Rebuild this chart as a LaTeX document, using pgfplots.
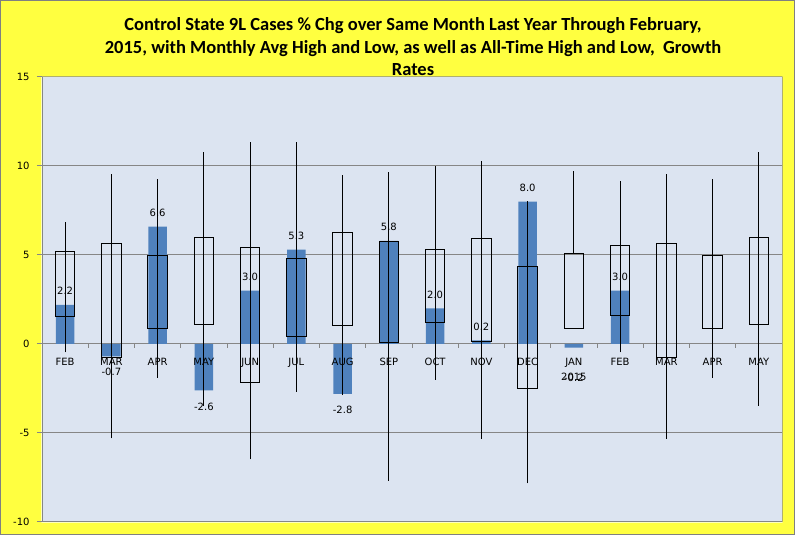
\documentclass[border=0pt]{standalone}
\usepackage{fontspec}
\setmainfont{DejaVu Sans}
\newfontfamily\titlefont{Carlito}
\usepackage{pgfplots}
\usepackage{pgfplotstable}
\pgfplotsset{compat=1.18}
\usepgfplotslibrary{statistics}
\definecolor{chartyellow}{RGB}{255,255,64}
\definecolor{plotbg}{RGB}{220,228,241}
\definecolor{gridgray}{RGB}{134,134,134}
\definecolor{barblue}{RGB}{79,129,189}
\definecolor{framegray}{RGB}{128,128,128}

% current growth rate (bars) and label offset
\pgfplotstableread{
x v off
0 2.2 6.5
1 -0.7 -8.5
2 6.6 6.5
3 -2.6 -9
4 3.0 6.5
5 5.3 6.5
6 -2.8 -8.5
7 5.8 6.5
8 2.0 6.5
9 0.2 6
10 8.0 6.5
11 -0.2 -22.5
12 3.0 6.5
}\bars

\begin{document}
\begin{tikzpicture}
\fill[chartyellow, even odd rule] (0,0) rectangle (795bp,535bp) (41.4bp,12.4bp) rectangle (782.6bp,458.6bp);
\draw[framegray, line width=1.2bp] (0.6bp,0.6bp) rectangle (794.4bp,534.4bp);
\node[align=center, font=\titlefont\bfseries\fontsize{18.5bp}{22.5bp}\selectfont] at (413bp,488bp)
 {Control State 9L Cases \% Chg over Same Month Last Year Through February,\\2015, with Monthly Avg High and Low, as well as All-Time High and Low,\ \ Growth\\Rates};
\begin{axis}[at={(42bp,13bp)}, anchor=south west, scale only axis, width=740bp, height=445bp,
 set layers,
 xmin=-0.5, xmax=15.5, ymin=-10, ymax=15,
 axis x line=middle, axis y line=left, axis line style={/pgfplots/on layer=axis foreground, gridgray, line width=1bp, -},
 axis background/.style={fill=plotbg, draw=gridgray, line width=1bp},
 hide obscured x ticks=false, hide obscured y ticks=false,
 ytick={-10,-5,...,15}, ymajorgrids, grid style={gridgray, line width=1bp},
 xtick={0,...,15},
 xticklabels={FEB,MAR,APR,MAY,JUN,JUL,AUG,SEP,OCT,NOV,DEC,{JAN\\2015},FEB,MAR,APR,MAY},
 minor x tick num=1, major x tick style={draw=none}, minor x tick style={gridgray, line width=1bp},
 minor tick length=4bp, major tick length=5bp, tick align=outside,
 ytick style={/pgfplots/on layer=axis foreground, gridgray, line width=1bp},
 xticklabel style={/pgfplots/on layer=axis foreground, align=center, yshift=-6bp, font=\fontsize{10bp}{15bp}\selectfont},
 yticklabel style={/pgfplots/on layer=axis foreground, xshift=-4bp, font=\fontsize{10bp}{12bp}\selectfont},
 /pgf/number format/assume math mode=true,
 boxplot/draw direction=y,
]
\addplot[ybar, bar width=0.4, bar shift=0pt, fill=barblue, draw=none,
 nodes near coords={\pgfmathprintnumber[fixed,fixed zerofill,precision=1,assume math mode=true]{\pgfplotspointmeta}},
 visualization depends on={\thisrow{off}\as\laboff},
 every node near coord/.append style={yshift=\laboff bp, font=\fontsize{10bp}{12bp}\selectfont, black}]
 table[x=x,y=v]{\bars};
% monthly average high/low boxes
\pgfplotsset{mybox/.style={black, line width=1.1bp, boxplot/draw direction=y, boxplot prepared={draw position=#1, box extend=0.42, whisker extend=0}}}
\addplot[mybox=0, boxplot prepared={lower whisker=1.53, lower quartile=1.53, median=1.53, upper quartile=5.2, upper whisker=5.2}] coordinates {};
\addplot[mybox=1, boxplot prepared={lower whisker=-0.75, lower quartile=-0.75, median=-0.75, upper quartile=5.65, upper whisker=5.65}] coordinates {};
\addplot[mybox=2, boxplot prepared={lower whisker=0.88, lower quartile=0.88, median=0.88, upper quartile=4.98, upper whisker=4.98}] coordinates {};
\addplot[mybox=3, boxplot prepared={lower whisker=1.1, lower quartile=1.1, median=1.1, upper quartile=5.99, upper whisker=5.99}] coordinates {};
\addplot[mybox=4, boxplot prepared={lower whisker=-2.15, lower quartile=-2.15, median=-2.15, upper quartile=5.43, upper whisker=5.43}] coordinates {};
\addplot[mybox=5, boxplot prepared={lower whisker=0.41, lower quartile=0.41, median=0.41, upper quartile=4.81, upper whisker=4.81}] coordinates {};
\addplot[mybox=6, boxplot prepared={lower whisker=1.05, lower quartile=1.05, median=1.05, upper quartile=6.27, upper whisker=6.27}] coordinates {};
\addplot[mybox=7, boxplot prepared={lower whisker=0.09, lower quartile=0.09, median=0.09, upper quartile=5.77, upper whisker=5.77}] coordinates {};
\addplot[mybox=8, boxplot prepared={lower whisker=1.22, lower quartile=1.22, median=1.22, upper quartile=5.32, upper whisker=5.32}] coordinates {};
\addplot[mybox=9, boxplot prepared={lower whisker=0.13, lower quartile=0.13, median=0.13, upper quartile=5.94, upper whisker=5.94}] coordinates {};
\addplot[mybox=10, boxplot prepared={lower whisker=-2.49, lower quartile=-2.49, median=-2.49, upper quartile=4.36, upper whisker=4.36}] coordinates {};
\addplot[mybox=11, boxplot prepared={lower whisker=0.88, lower quartile=0.88, median=0.88, upper quartile=5.09, upper whisker=5.09}] coordinates {};
\addplot[mybox=12, boxplot prepared={lower whisker=1.61, lower quartile=1.61, median=1.61, upper quartile=5.54, upper whisker=5.54}] coordinates {};
\addplot[mybox=13, boxplot prepared={lower whisker=-0.75, lower quartile=-0.75, median=-0.75, upper quartile=5.65, upper whisker=5.65}] coordinates {};
\addplot[mybox=14, boxplot prepared={lower whisker=0.88, lower quartile=0.88, median=0.88, upper quartile=4.98, upper whisker=4.98}] coordinates {};
\addplot[mybox=15, boxplot prepared={lower whisker=1.1, lower quartile=1.1, median=1.1, upper quartile=5.99, upper whisker=5.99}] coordinates {};
% all-time high/low lines
\addplot[black, line width=1.1bp, mark=none, unbounded coords=jump] coordinates {
 (0,-0.47) (0,6.84) (0,nan)
 (1,-5.3) (1,9.55) (1,nan)
 (2,-1.89) (2,9.25) (2,nan)
 (3,-3.46) (3,10.77) (3,nan)
 (4,-6.48) (4,11.33) (4,nan)
 (5,-2.68) (5,11.33) (5,nan)
 (6,-2.87) (6,9.49) (6,nan)
 (7,-7.68) (7,9.64) (7,nan)
 (8,-2.02) (8,10.0) (8,nan)
 (9,-5.32) (9,10.28) (9,nan)
 (10,-7.83) (10,8.03) (10,nan)
 (11,5.09) (11,9.72) (11,nan)
 (12,-0.47) (12,9.16) (12,nan)
 (13,-5.32) (13,9.55) (13,nan)
 (14,-1.89) (14,9.25) (14,nan)
 (15,-3.46) (15,10.77)
};
\end{axis}
\end{tikzpicture}
\end{document}
